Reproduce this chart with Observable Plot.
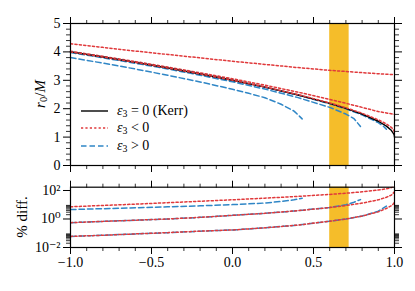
<!DOCTYPE html>
<html><head><meta charset="utf-8">
<script src="https://cdn.jsdelivr.net/npm/d3@7"></script>
<script src="https://cdn.jsdelivr.net/npm/@observablehq/plot@0.6"></script>
<style>
body{margin:0;background:#fff;}
#chart{position:relative;width:415px;height:291px;font-family:"Liberation Serif","Times New Roman","DejaVu Serif",serif;color:#000;}
#chart > svg{position:absolute;left:0;overflow:visible;}
#chart svg text{font-family:"Liberation Serif","Times New Roman","DejaVu Serif",serif;}
.ylab{position:absolute;font-size:15px;white-space:nowrap;transform:translate(-50%,-50%) rotate(-90deg);}
.leg{position:absolute;left:81px;font-size:14px;white-space:nowrap;}
.leg div{height:17.5px;display:flex;align-items:center;}
.leg svg{margin-right:9px;}
sub{font-size:70%;vertical-align:-0.25em;line-height:0;}
</style></head><body><div id="chart"></div>
<script>
// ---- data ----
const band = [0.6, 0.72];

// top panel: r0/M versus spin
const kerrA = [-1,-0.8,-0.6,-0.4,-0.2,0,0.2,0.4,0.6,0.7,0.8,0.9,0.95,0.98,0.995,0.999,1];
const kerrR = [4.000,3.819,3.630,3.432,3.222,3.000,2.760,2.493,2.189,2.013,1.811,1.558,1.386,1.239,1.117,1.052,1.0];

const negHiA = [-1,-0.8,-0.6,-0.4,-0.2,0,0.2,0.4,0.6,0.7,0.8,0.9,1];
const negHiR = [4.29,4.16,4.03,3.91,3.79,3.67,3.56,3.45,3.35,3.31,3.27,3.23,3.20];
const negMidA = [-1,-0.8,-0.6,-0.4,-0.2,0,0.2,0.4,0.6,0.7,0.8,0.9,0.95,0.98,1];
const negMidR = [4.022,3.845,3.660,3.466,3.264,3.054,2.829,2.588,2.327,2.190,2.046,1.90,1.85,1.82,1.80];
const negLoA = [-1,-0.8,-0.6,-0.4,-0.2,0,0.2,0.4,0.6,0.7,0.8,0.9,0.95,0.98,0.995,1];
const negLoR = [4.002,3.822,3.633,3.436,3.227,3.005,2.767,2.502,2.204,2.033,1.840,1.608,1.462,1.344,1.251,1.16];

const posHiA = [-1,-0.8,-0.6,-0.4,-0.2,0,0.1,0.2,0.3,0.38,0.43];
const posHiR = [3.80,3.605,3.398,3.178,2.942,2.685,2.542,2.387,2.157,1.916,1.642];
const posMidA = [-1,-0.8,-0.6,-0.4,-0.2,0,0.2,0.4,0.6,0.7,0.75,0.79];
const posMidR = [3.978,3.793,3.600,3.398,3.180,2.946,2.691,2.398,2.047,1.812,1.648,1.374];
const posLoA = [-1,-0.8,-0.6,-0.4,-0.2,0,0.2,0.4,0.6,0.7,0.8,0.9,0.93,0.95];
const posLoR = [3.998,3.816,3.627,3.428,3.218,2.995,2.753,2.484,2.174,1.993,1.782,1.508,1.388,1.275];

// bottom panel: % difference from Kerr
const dNegHiA = [-1,-0.8,-0.6,-0.4,-0.2,0,0.2,0.4,0.6,0.7,0.8,0.9,0.95,0.98,1];
const dNegHi = [7.25,8.9,11.0,13.9,17.6,22.3,29.0,38.4,53,64,81,107,132,159,220];
const dPosHiA = [-1,-0.8,-0.6,-0.4,-0.2,0,0.1,0.2,0.3,0.38,0.43];
const dPosHi = [4.6,5.3,6.1,7.1,8.4,10.2,11.5,13.2,17,22,29];
const dNegMidA = [-1,-0.8,-0.6,-0.4,-0.2,0,0.2,0.4,0.6,0.7,0.8,0.9,0.95,0.98,1];
const dNegMid = [0.55,0.68,0.82,1.0,1.3,1.8,2.5,3.8,6.3,8.8,13,22,33.5,47,80];
const dPosMidA = [-1,-0.8,-0.6,-0.4,-0.2,0,0.2,0.4,0.6,0.7,0.75,0.79];
const dPosMid = [0.55,0.68,0.82,1.0,1.3,1.8,2.5,3.8,6.5,10,15,23];
const dNegLoA = [-1,-0.8,-0.6,-0.4,-0.2,0,0.2,0.4,0.6,0.7,0.8,0.9,0.95,0.98,0.995,1];
const dNegLo = [0.06,0.072,0.09,0.11,0.14,0.17,0.24,0.37,0.7,1.0,1.6,3.2,5.5,8.5,12,16];
const dPosLoA = [-1,-0.8,-0.6,-0.4,-0.2,0,0.2,0.4,0.6,0.7,0.8,0.9,0.93,0.95];
const dPosLo = [0.06,0.072,0.09,0.11,0.14,0.17,0.24,0.37,0.7,1.0,1.6,3.5,5.8,8.0];

const xMajor = [-1,-0.5,0,0.5,1];
const xMinor = d3.range(-10,11).map(i=>i/10).filter(v=>!xMajor.includes(v));
const yMajor = [0,1,2,3,4,5];
const yMinor = d3.range(0,26).map(i=>i/5).filter(v=>!yMajor.includes(v));
const logMajor = [0.01,1,100];
const logMajorLabels = ["10\u207B\u00B2","10\u2070","10\u00B2"];
const logMinor = [2,3,4,5,6,7,8,9].flatMap(k=>[k*0.01,k*1]);

// ---- styling ----
const FONT = '"Liberation Serif","Times New Roman","DejaVu Serif",serif';
const RED = "#e0393b", BLUE = "#2f86c6", BAND = "#f5bd2a";
const kerrStyle = {stroke:"#000", strokeWidth:1.4};
const negStyle = {stroke:RED, strokeWidth:1.5, strokeDasharray:"2.2,2.2"};
const posStyle = {stroke:BLUE, strokeWidth:1.5, strokeDasharray:"5.5,3"};
const rows = (A,V)=>A.map((a,i)=>({a, v:V[i]}));
const fmtX = d=>d.toFixed(1).replace("-","\u2212");
const none = ()=>"";
const W = 415, ML = 70, MR = 21;

function xAxes(labelBottom){
  return [
    Plot.axisX(xMajor,{anchor:"bottom",tickSize:7,tickFormat:labelBottom?fmtX:none,label:null,strokeWidth:1,fontSize:14}),
    Plot.axisX(xMinor,{anchor:"bottom",tickSize:4,tickFormat:none,label:null,strokeWidth:0.8}),
    Plot.axisX(xMajor,{anchor:"top",tickSize:7,tickFormat:none,label:null,strokeWidth:1}),
    Plot.axisX(xMinor,{anchor:"top",tickSize:4,tickFormat:none,label:null,strokeWidth:0.8})
  ];
}

const topPlot = Plot.plot({
  width:W, height:175, marginLeft:ML, marginRight:MR, marginTop:23, marginBottom:10,
  x:{domain:[-1,1]}, y:{domain:[0,5]},
  style:{fontFamily:FONT,fontSize:"14px",background:"transparent",color:"#000"},
  marks:[
    Plot.rect([band],{x1:d=>d[0],x2:d=>d[1],fill:BAND}),
    Plot.line(rows(negHiA,negHiR),{x:"a",y:"v",...negStyle}),
    Plot.line(rows(posHiA,posHiR),{x:"a",y:"v",...posStyle}),
    Plot.line(rows(posMidA,posMidR),{x:"a",y:"v",...posStyle}),
    Plot.line(rows(negMidA,negMidR),{x:"a",y:"v",...negStyle}),
    Plot.line(rows(posLoA,posLoR),{x:"a",y:"v",...posStyle}),
    Plot.line(rows(kerrA,kerrR),{x:"a",y:"v",...kerrStyle}),
    Plot.line(rows(negLoA,negLoR),{x:"a",y:"v",...negStyle}),
    ...xAxes(false),
    Plot.axisY(yMajor,{anchor:"left",tickSize:7,label:null,strokeWidth:1,fontSize:14}),
    Plot.axisY(yMinor,{anchor:"left",tickSize:4,tickFormat:none,label:null,strokeWidth:0.8}),
    Plot.axisY(yMajor,{anchor:"right",tickSize:7,tickFormat:none,label:null,strokeWidth:1}),
    Plot.axisY(yMinor,{anchor:"right",tickSize:4,tickFormat:none,label:null,strokeWidth:0.8}),
    Plot.frame({stroke:"#000",strokeWidth:1.2})
  ]
});
topPlot.style.top = "0px";

const bottomPlot = Plot.plot({
  width:W, height:116, marginLeft:ML, marginRight:MR, marginTop:11.7, marginBottom:44,
  x:{domain:[-1,1]}, y:{type:"log",domain:[0.01,170]},
  style:{fontFamily:FONT,fontSize:"14px",background:"transparent",color:"#000"},
  marks:[
    Plot.rect([band],{x1:d=>d[0],x2:d=>d[1],fill:BAND}),
    Plot.line(rows(dPosHiA,dPosHi),{x:"a",y:"v",clip:true,...posStyle}),
    Plot.line(rows(dNegHiA,dNegHi),{x:"a",y:"v",clip:true,...negStyle}),
    Plot.line(rows(dPosMidA,dPosMid),{x:"a",y:"v",clip:true,...posStyle}),
    Plot.line(rows(dNegMidA,dNegMid),{x:"a",y:"v",clip:true,...negStyle}),
    Plot.line(rows(dPosLoA,dPosLo),{x:"a",y:"v",clip:true,...posStyle}),
    Plot.line(rows(dNegLoA,dNegLo),{x:"a",y:"v",clip:true,...negStyle}),
    ...xAxes(true),
    Plot.axisY(logMajor,{anchor:"left",tickSize:7,tickFormat:d=>logMajorLabels[logMajor.indexOf(d)],label:null,strokeWidth:1,fontSize:14}),
    Plot.axisY(logMinor,{anchor:"left",tickSize:4,tickFormat:none,label:null,strokeWidth:0.8}),
    Plot.axisY(logMajor,{anchor:"right",tickSize:7,tickFormat:none,label:null,strokeWidth:1}),
    Plot.axisY(logMinor,{anchor:"right",tickSize:4,tickFormat:none,label:null,strokeWidth:0.8}),
    Plot.frame({stroke:"#000",strokeWidth:1.2})
  ]
});
bottomPlot.style.top = "175px";

const chart = document.getElementById("chart");
chart.append(topPlot, bottomPlot);

// axis titles
const yl1 = document.createElement("div");
yl1.className = "ylab"; yl1.style.left = "40px"; yl1.style.top = "94px";
yl1.innerHTML = "<i>r</i><sub>0</sub>/<i>M</i>";
const yl2 = document.createElement("div");
yl2.className = "ylab"; yl2.style.left = "22px"; yl2.style.top = "217px";
yl2.textContent = "% diff.";
chart.append(yl1, yl2);

// legend
const leg = document.createElement("div");
leg.className = "leg"; leg.style.top = "102px";
const items = [
  [kerrStyle, "<i>\u03B5</i><sub>3</sub> = 0 (Kerr)"],
  [negStyle, "<i>\u03B5</i><sub>3</sub> &lt; 0"],
  [posStyle, "<i>\u03B5</i><sub>3</sub> &gt; 0"]
];
for (const [s, label] of items) {
  const row = document.createElement("div");
  row.innerHTML = `<svg width="27" height="6"><line x1="0" x2="27" y1="3" y2="3" stroke="${s.stroke}" stroke-width="${s.strokeWidth}" ${s.strokeDasharray?`stroke-dasharray="${s.strokeDasharray}"`:""}/></svg><span>${label}</span>`;
  leg.append(row);
}
chart.append(leg);
</script></body></html>
